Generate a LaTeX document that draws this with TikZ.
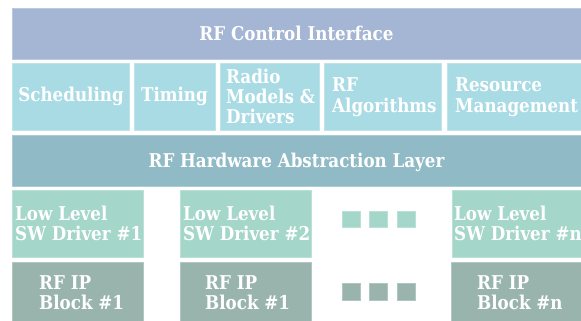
\documentclass[tikz,border=0pt]{standalone}
\usepackage{fontspec}
\newfontfamily\dvs{DejaVu Serif}[FakeStretch=0.88]
\definecolor{ctop}{HTML}{A4B6D4}
\definecolor{crow}{HTML}{A9DBE5}
\definecolor{chal}{HTML}{91BAC7}
\definecolor{cdrv}{HTML}{A4D6CA}
\definecolor{cblk}{HTML}{99B4AC}
\begin{document}
\begin{tikzpicture}[x=1pt,y=-1pt,
  pane/.style={anchor=north west,inner sep=0pt,outer sep=0pt,draw=#1!75!white,fill=#1,line width=0.8pt},
  lbl/.style={text=white,inner sep=0pt,font=\dvs\bfseries\fontsize{19}{20.5}\selectfont},
  lbll/.style={lbl,align=left,anchor=base west}]
\useasboundingbox[fill=white] (0,0) rectangle (581,321);
% top bar
\node[pane=ctop,minimum width=569,minimum height=51] (top) at (12,8) {};
\node[lbl,anchor=base] (topt) at (296.5,41) {RF Control Interface};
% row 2
\node[pane=crow,minimum width=117,minimum height=67] (sch) at (12,63) {};
\node[pane=crow,minimum width=81,minimum height=67] (tim) at (134,63) {};
\node[pane=crow,minimum width=99,minimum height=67] (rad) at (220,63) {};
\node[pane=crow,minimum width=117,minimum height=67] (alg) at (324,63) {};
\node[pane=crow,minimum width=134,minimum height=67] (res) at (447,63) {};
\node[lbl,anchor=base] (scht) at (71,102) {Scheduling};
\node[lbl,anchor=base] (timt) at (174.5,102) {Timing};
\node[lbll] (radt1) at (226,83) {Radio};
\node[lbll] (radt2) at (226,103) {Models \&};
\node[lbll] (radt3) at (226,123) {Drivers};
\node[lbll] (algt1) at (332,92) {RF};
\node[lbll] (algt2) at (332,112) {Algorithms};
\node[lbll] (rest1) at (455,92) {Resource};
\node[lbll] (rest2) at (455,112) {Management};
% HAL
\node[pane=chal,minimum width=569,minimum height=51] (hal) at (12,135) {};
\node[lbl,anchor=base] (halt) at (296.5,167) {RF Hardware Abstraction Layer};
% drivers
\node[pane=cdrv,minimum width=131,minimum height=67] (drv1) at (12,190) {};
\node[pane=cdrv,minimum width=131,minimum height=67] (drv2) at (180,190) {};
\node[pane=cdrv,minimum width=129,minimum height=67] (drvn) at (452,190) {};
\node[lbll] (drv1a) at (15,220) {Low Level};
\node[lbll] (drv1b) at (15,240) {SW Driver \#1};
\node[lbll] (drv2a) at (183,220) {Low Level};
\node[lbll] (drv2b) at (183,240) {SW Driver \#2};
\node[lbll] (drvna) at (454,220) {Low Level};
\node[lbll] (drvnb) at (454,240) {SW Driver \#n};
% blocks
\node[pane=cblk,minimum width=131,minimum height=60] (blk1) at (12,262) {};
\node[pane=cblk,minimum width=131,minimum height=60] (blk2) at (180,262) {};
\node[pane=cblk,minimum width=130,minimum height=60] (blkn) at (451,262) {};
\node[lbll] (blk1a) at (39,289) {RF IP};
\node[lbll] (blk1b) at (39,309) {Block \#1};
\node[lbll] (blk2a) at (205,289) {RF IP};
\node[lbll] (blk2b) at (205,309) {Block \#1};
\node[lbll] (blkna) at (477,289) {RF IP};
\node[lbll] (blknb) at (477,309) {Block \#n};
% ellipsis squares
\foreach \i/\xx in {1/342,2/369,3/397}{
  \node[pane=cdrv,minimum width=18,minimum height=16] (dd\i) at (\xx,211) {};
  \node[pane=cblk,minimum width=18,minimum height=17] (db\i) at (\xx,283) {};
}
\end{tikzpicture}
\end{document}
